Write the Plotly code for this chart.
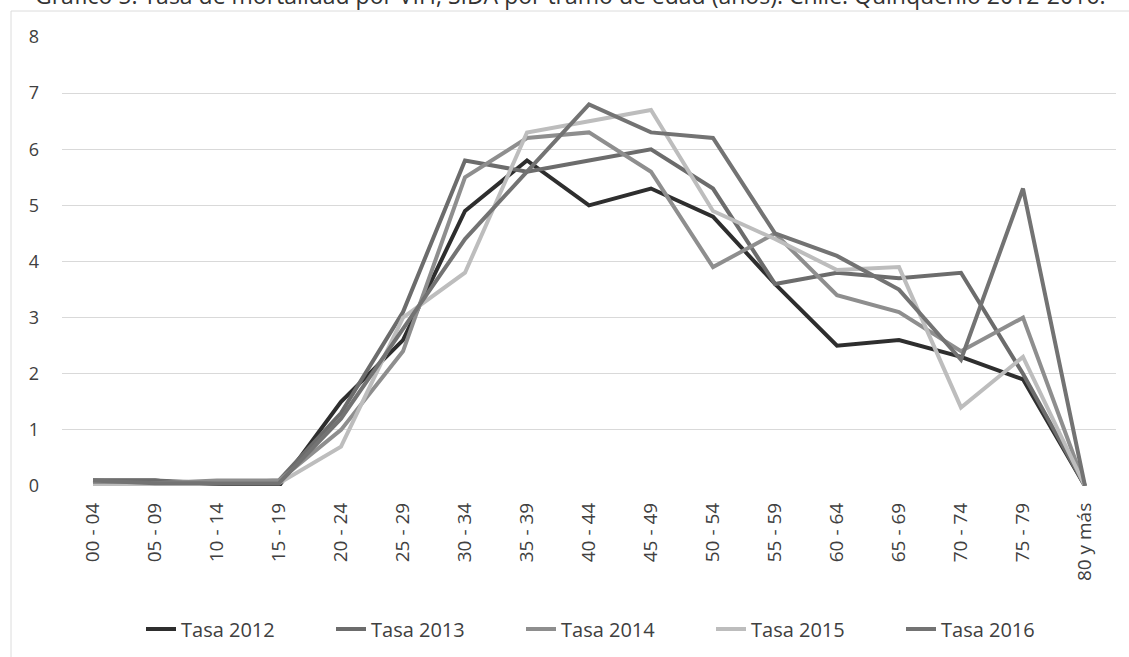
import plotly.graph_objects as go

categories = ["00 - 04", "05 - 09", "10 - 14", "15 - 19", "20 - 24", "25 - 29", "30 - 34",
              "35 - 39", "40 - 44", "45 - 49", "50 - 54", "55 - 59", "60 - 64", "65 - 69",
              "70 - 74", "75 - 79", "80 y más"]

tasa_2012 = [0.1, 0.1, 0.0, 0.0, 1.5, 2.6, 4.9, 5.8, 5.0, 5.3, 4.8, 3.6, 2.5, 2.6, 2.3, 1.9, 0.0]
tasa_2013 = [0.1, 0.1, 0.05, 0.1, 1.3, 3.1, 5.8, 5.6, 5.8, 6.0, 5.3, 3.6, 3.8, 3.7, 3.8, 2.0, 0.0]
tasa_2014 = [0.05, 0.05, 0.1, 0.1, 1.0, 2.4, 5.5, 6.2, 6.3, 5.6, 3.9, 4.5, 3.4, 3.1, 2.4, 3.0, 0.0]
tasa_2015 = [0.0, 0.0, 0.05, 0.05, 0.7, 3.0, 3.8, 6.3, 6.5, 6.7, 4.9, 4.4, 3.85, 3.9, 1.4, 2.3, 0.0]
tasa_2016 = [0.1, 0.05, 0.05, 0.05, 1.2, 2.8, 4.4, 5.6, 6.8, 6.3, 6.2, 4.5, 4.1, 3.5, 2.25, 5.3, 0.0]

series = [
    ("Tasa 2012", tasa_2012, "#2e2e2e"),
    ("Tasa 2013", tasa_2013, "#6c6c6c"),
    ("Tasa 2014", tasa_2014, "#8e8e8e"),
    ("Tasa 2015", tasa_2015, "#bdbdbd"),
    ("Tasa 2016", tasa_2016, "#737373"),
]

y_ticks = [0, 1, 2, 3, 4, 5, 6, 7, 8]

W, H = 1129, 657
L, R, T, B = 62, 13, 37, 171
PW, PH = W - L - R, H - T - B

fig = go.Figure()
for name, vals, col in series:
    fig.add_trace(go.Scatter(x=list(range(len(categories))), y=vals, name=name, mode="lines",
                             line=dict(color=col, width=4)))

fig.update_layout(
    width=W, height=H,
    margin=dict(l=L, r=R, t=T, b=B, autoexpand=False),
    paper_bgcolor="white", plot_bgcolor="white",
    font=dict(family="Open Sans", color="#404040"),
    showlegend=True,
    legend=dict(orientation="h", x=(141 - L) / PW, xanchor="left", y=(H - B - 629) / PH,
                yanchor="middle", font=dict(size=20, color="#404040"),
                entrywidth=145, entrywidthmode="pixels", tracegroupgap=0),
    xaxis=dict(range=[-0.5, 16.5], tickmode="array", tickvals=list(range(len(categories))),
               ticktext=categories, tickangle=-90, showgrid=False, zeroline=False,
               showline=False, ticks="", automargin=False, ticklabelstandoff=12,
               tickfont=dict(size=19, color="#404040")),
    yaxis=dict(range=[0, 8], tickvals=y_ticks, showgrid=True, gridcolor="#d9d9d9", gridwidth=1,
               zeroline=False, showline=False, ticks="", ticklabelstandoff=22, automargin=False,
               tickfont=dict(size=18, color="#404040")),
    shapes=[dict(type="rect", xref="paper", yref="paper",
                 x0=(11 - L) / PW, x1=1.2, y0=-0.4, y1=1 + (T - 11) / PH,
                 line=dict(color="#dcdcdc", width=1), fillcolor="rgba(0,0,0,0)", layer="below")],
    annotations=[dict(text="Gráfico 5. Tasa de mortalidad por VIH, SIDA por tramo de edad (años). Chile. Quinquenio 2012-2016.",
                      xref="paper", yref="paper", x=(33 - L) / PW, y=1 + (T - 13) / PH, xanchor="left",
                      yanchor="bottom", showarrow=False,
                      font=dict(size=23, color="#333333", family="Open Sans"))],
)

fig.write_html("out.html", config={"displayModeBar": False},
               post_script="document.body.style.margin='0px';document.body.style.overflow='hidden';")
